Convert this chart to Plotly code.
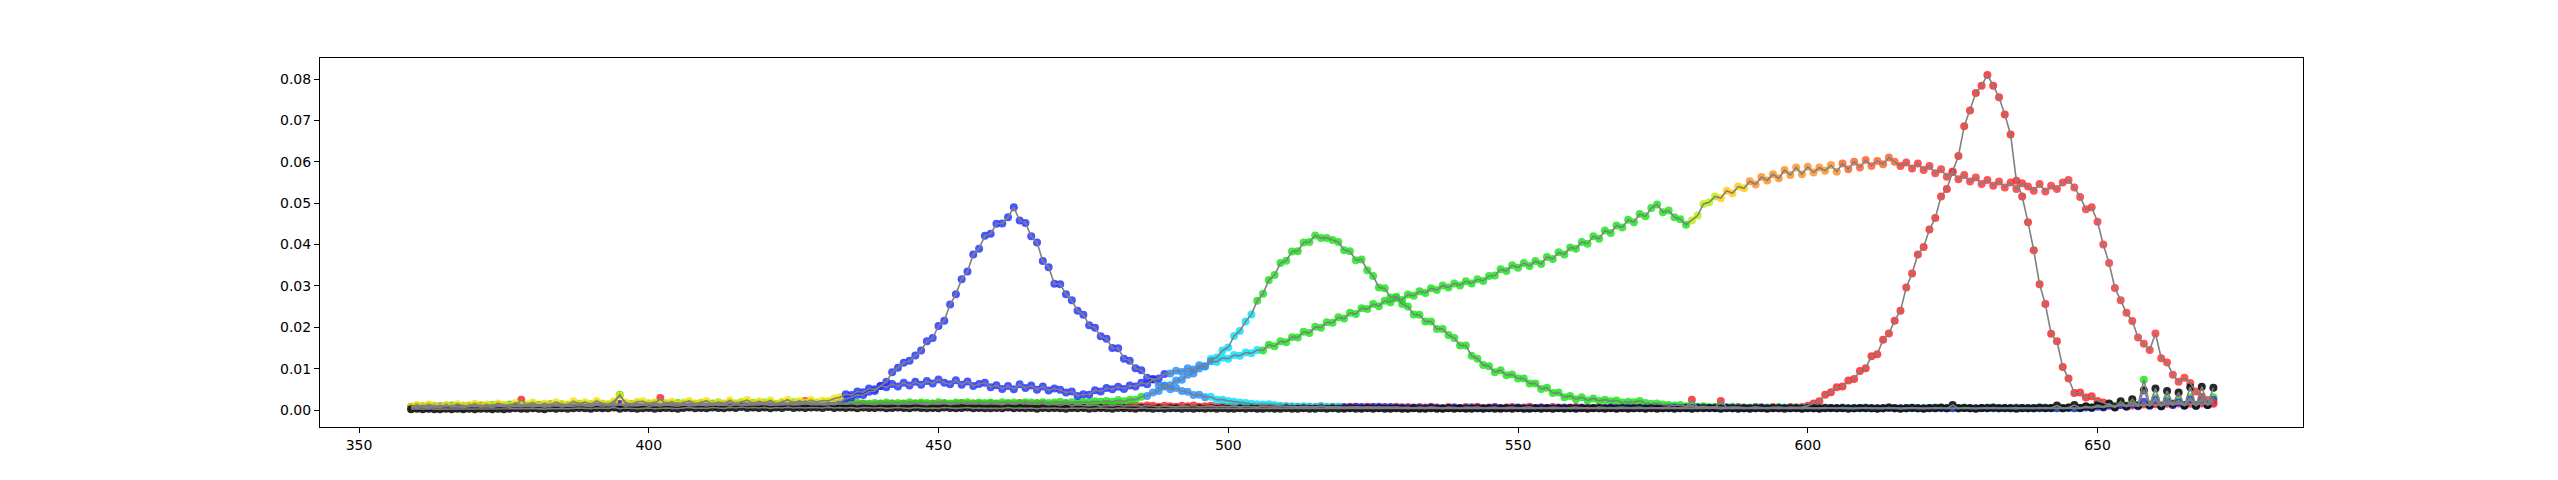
import plotly.graph_objects as go

WAVELENGTH = list(range(359, 671))

BLACK_BASE = [
    0.0002,0.0003,0.0002,0.0003,0.0002,0.0002,0.0003,0.0002,0.0003,0.0002,
    0.0003,0.0002,0.0003,0.0003,0.0002,0.0003,0.0002,0.0003,0.0004,0.0003,
    0.0003,0.0004,0.0003,0.0002,0.0004,0.0003,0.0004,0.0003,0.0004,0.0005,
    0.0004,0.0003,0.0005,0.0004,0.0004,0.0006,0.0003,0.0005,0.0004,0.0003,
    0.0004,0.0005,0.0003,0.0004,0.0005,0.0004,0.0003,0.0005,0.0006,0.0004,
    0.0005,0.0004,0.0006,0.0005,0.0004,0.0006,0.0005,0.0007,0.0005,0.0006,
    0.0005,0.0006,0.0004,0.0006,0.0005,0.0007,0.0005,0.0006,0.0005,0.0006,
    0.0006,0.0005,0.0007,0.0005,0.0006,0.0005,0.0006,0.0004,0.0006,0.0005,
    0.0005,0.0006,0.0004,0.0005,0.0006,0.0005,0.0004,0.0006,0.0005,0.0004,
    0.0005,0.0004,0.0006,0.0005,0.0004,0.0005,0.0006,0.0004,0.0005,0.0004,
    0.0004,0.0005,0.0004,0.0006,0.0004,0.0005,0.0004,0.0005,0.0003,0.0005,
    0.0004,0.0005,0.0004,0.0003,0.0005,0.0004,0.0005,0.0003,0.0004,0.0005,
    0.0004,0.0003,0.0005,0.0004,0.0004,0.0003,0.0005,0.0004,0.0003,0.0004,
    0.0003,0.0004,0.0004,0.0003,0.0004,0.0003,0.0004,0.0003,0.0004,0.0003,
    0.0004,0.0003,0.0003,0.0004,0.0003,0.0004,0.0003,0.0003,0.0004,0.0003,
    0.0003,0.0004,0.0003,0.0003,0.0004,0.0003,0.0003,0.0004,0.0003,0.0004,
    0.0003,0.0003,0.0004,0.0003,0.0003,0.0004,0.0003,0.0004,0.0003,0.0003,
    0.0004,0.0003,0.0003,0.0004,0.0003,0.0003,0.0004,0.0003,0.0003,0.0004,
    0.0003,0.0004,0.0003,0.0003,0.0004,0.0003,0.0004,0.0003,0.0003,0.0004,
    0.0003,0.0004,0.0003,0.0003,0.0004,0.0003,0.0004,0.0003,0.0004,0.0003,
    0.0004,0.0003,0.0004,0.0003,0.0004,0.0004,0.0003,0.0004,0.0003,0.0004,
    0.0003,0.0004,0.0004,0.0003,0.0004,0.0003,0.0004,0.0004,0.0003,0.0004,
    0.0004,0.0003,0.0004,0.0004,0.0005,0.0004,0.0003,0.0004,0.0004,0.0003,
    0.0004,0.0003,0.0004,0.0004,0.0003,0.0004,0.0004,0.0003,0.0004,0.0004,
    0.0003,0.0004,0.0004,0.0003,0.0004,0.0005,0.0004,0.0004,0.0003,0.0004,
    0.0005,0.0004,0.0004,0.0003,0.0004,0.0006,0.0004,0.0003,0.0004,0.0005,
    0.0004,0.0003,0.0005,0.0004,0.0006,0.0004,0.0012,0.0004,0.0005,0.0004,
    0.0003,0.0005,0.0004,0.0006,0.0004,0.0005,0.0004,0.0003,0.0005,0.0004,
    0.0004,0.0006,0.0004,0.0005,0.0011,0.0004,0.0006,0.0012,0.0005,0.0009,
    0.0006,0.0012,0.0008,0.0016,0.0006,0.0021,0.0009,0.0026,0.0011,0.0048,
    0.0012,0.0052,0.0009,0.0046,0.0015,0.0042,0.0011,0.0055,0.0010,0.0056,
    0.0012,0.0054,
]

BLUE_LED = [
    0.0006,0.0008,0.0007,0.0006,0.0008,0.0007,0.0009,0.0007,0.0008,0.0006,
    0.0008,0.0009,0.0007,0.0008,0.0006,0.0009,0.0008,0.0007,0.0010,0.0008,
    0.0009,0.0008,0.0010,0.0007,0.0009,0.0011,0.0008,0.0010,0.0009,0.0011,
    0.0010,0.0008,0.0012,0.0009,0.0011,0.0010,0.0013,0.0009,0.0011,0.0010,
    0.0012,0.0009,0.0011,0.0010,0.0012,0.0011,0.0009,0.0012,0.0010,0.0011,
    0.0012,0.0010,0.0013,0.0011,0.0012,0.0010,0.0013,0.0012,0.0011,0.0013,
    0.0012,0.0014,0.0011,0.0013,0.0012,0.0014,0.0012,0.0013,0.0015,0.0013,
    0.0014,0.0012,0.0013,0.0016,0.0019,0.0027,0.0031,0.0037,0.0036,0.0044,
    0.0046,0.0058,0.0068,0.0091,0.0102,0.0114,0.0119,0.0132,0.0144,0.0166,
    0.0174,0.0203,0.0216,0.0255,0.0280,0.0316,0.0335,0.0376,0.0390,0.0421,
    0.0426,0.0450,0.0451,0.0466,0.0490,0.0458,0.0452,0.0420,0.0405,0.0360,
    0.0345,0.0305,0.0304,0.0280,0.0265,0.0240,0.0230,0.0205,0.0199,0.0178,
    0.0172,0.0150,0.0149,0.0124,0.0119,0.0101,0.0096,0.0078,0.0075,0.0060,
    0.0057,0.0050,0.0053,0.0046,0.0044,0.0036,0.0037,0.0031,0.0032,0.0025,
    0.0025,0.0022,0.0020,0.0018,0.0017,0.0015,0.0014,0.0013,0.0014,0.0012,
    0.0010,0.0008,0.0009,0.0007,0.0009,0.0008,0.0007,0.0009,0.0008,0.0007,
    0.0008,0.0007,0.0006,0.0008,0.0007,0.0006,0.0007,0.0008,0.0006,0.0007,
    0.0005,0.0006,0.0004,0.0006,0.0005,0.0004,0.0006,0.0005,0.0004,0.0005,
    0.0006,0.0004,0.0005,0.0006,0.0004,0.0005,0.0004,0.0006,0.0005,0.0004,
    0.0005,0.0006,0.0004,0.0005,0.0004,0.0006,0.0005,0.0004,0.0005,0.0006,
    0.0004,0.0005,0.0006,0.0004,0.0005,0.0004,0.0005,0.0006,0.0004,0.0005,
    0.0006,0.0004,0.0005,0.0004,0.0006,0.0005,0.0004,0.0005,0.0006,0.0004,
    0.0005,0.0004,0.0006,0.0005,0.0004,0.0005,0.0004,0.0006,0.0004,0.0005,
    0.0004,0.0005,0.0004,0.0006,0.0004,0.0005,0.0004,0.0005,0.0004,0.0005,
    0.0004,0.0005,0.0004,0.0004,0.0005,0.0004,0.0004,0.0005,0.0004,0.0004,
    0.0004,0.0005,0.0004,0.0004,0.0004,0.0005,0.0004,0.0004,0.0004,0.0005,
    0.0004,0.0004,0.0004,0.0005,0.0004,0.0004,0.0004,0.0004,0.0005,0.0004,
    0.0004,0.0004,0.0005,0.0004,0.0004,0.0004,0.0004,0.0005,0.0004,0.0004,
    0.0004,0.0004,0.0005,0.0004,0.0004,0.0004,0.0005,0.0004,0.0004,0.0006,
    0.0005,0.0008,0.0006,0.0010,0.0007,0.0012,0.0008,0.0014,0.0009,0.0020,
    0.0010,0.0024,0.0009,0.0020,0.0012,0.0018,0.0011,0.0025,0.0010,0.0023,
    0.0012,0.0024,
]

GREEN_LED = [
    0.0008,0.0007,0.0009,0.0008,0.0010,0.0008,0.0009,0.0011,0.0008,0.0010,
    0.0009,0.0011,0.0010,0.0009,0.0012,0.0010,0.0011,0.0013,0.0010,0.0012,
    0.0011,0.0013,0.0012,0.0010,0.0013,0.0012,0.0014,0.0011,0.0013,0.0015,
    0.0013,0.0012,0.0016,0.0014,0.0013,0.0017,0.0037,0.0015,0.0014,0.0016,
    0.0014,0.0016,0.0015,0.0013,0.0016,0.0015,0.0017,0.0014,0.0016,0.0015,
    0.0017,0.0015,0.0016,0.0018,0.0015,0.0017,0.0016,0.0019,0.0016,0.0017,
    0.0016,0.0018,0.0017,0.0015,0.0018,0.0016,0.0019,0.0017,0.0016,0.0018,
    0.0017,0.0016,0.0018,0.0017,0.0015,0.0017,0.0016,0.0018,0.0016,0.0015,
    0.0017,0.0016,0.0018,0.0015,0.0017,0.0016,0.0019,0.0016,0.0018,0.0017,
    0.0016,0.0019,0.0017,0.0016,0.0018,0.0017,0.0019,0.0016,0.0018,0.0017,
    0.0018,0.0016,0.0019,0.0017,0.0018,0.0016,0.0019,0.0018,0.0017,0.0019,
    0.0017,0.0018,0.0020,0.0017,0.0019,0.0018,0.0020,0.0019,0.0021,0.0020,
    0.0022,0.0020,0.0024,0.0021,0.0025,0.0025,0.0032,0.0034,0.0042,0.0046,
    0.0059,0.0060,0.0071,0.0073,0.0085,0.0088,0.0100,0.0105,0.0123,0.0127,
    0.0144,0.0151,0.0179,0.0191,0.0214,0.0231,0.0264,0.0281,0.0314,0.0326,
    0.0355,0.0361,0.0383,0.0384,0.0405,0.0406,0.0422,0.0416,0.0416,0.0411,
    0.0406,0.0386,0.0384,0.0362,0.0364,0.0338,0.0324,0.0296,0.0294,0.0272,
    0.0274,0.0256,0.0250,0.0231,0.0230,0.0214,0.0214,0.0196,0.0196,0.0181,
    0.0174,0.0156,0.0156,0.0131,0.0124,0.0109,0.0106,0.0091,0.0096,0.0084,
    0.0086,0.0076,0.0076,0.0064,0.0064,0.0051,0.0054,0.0041,0.0042,0.0031,
    0.0034,0.0026,0.0031,0.0023,0.0028,0.0022,0.0025,0.0021,0.0023,0.0018,
    0.0020,0.0019,0.0022,0.0017,0.0015,0.0016,0.0013,0.0012,0.0011,0.0012,
    0.0009,0.0010,0.0008,0.0009,0.0007,0.0008,0.0007,0.0006,0.0008,0.0006,
    0.0005,0.0006,0.0007,0.0005,0.0006,0.0005,0.0007,0.0006,0.0005,0.0006,
    0.0005,0.0006,0.0004,0.0005,0.0006,0.0005,0.0004,0.0006,0.0005,0.0004,
    0.0005,0.0006,0.0004,0.0005,0.0004,0.0006,0.0005,0.0004,0.0005,0.0006,
    0.0004,0.0005,0.0004,0.0006,0.0005,0.0004,0.0005,0.0004,0.0006,0.0005,
    0.0004,0.0005,0.0006,0.0004,0.0005,0.0004,0.0005,0.0006,0.0004,0.0005,
    0.0005,0.0004,0.0006,0.0005,0.0004,0.0005,0.0006,0.0004,0.0005,0.0008,
    0.0006,0.0010,0.0008,0.0013,0.0009,0.0015,0.0011,0.0019,0.0012,0.0073,
    0.0013,0.0029,0.0011,0.0027,0.0014,0.0023,0.0012,0.0030,0.0011,0.0029,
    0.0013,0.0031,
]

RED_LED = [
    0.0007,0.0009,0.0008,0.0010,0.0007,0.0009,0.0008,0.0010,0.0009,0.0008,
    0.0010,0.0008,0.0011,0.0009,0.0010,0.0012,0.0009,0.0011,0.0010,0.0025,
    0.0011,0.0010,0.0012,0.0011,0.0013,0.0010,0.0012,0.0011,0.0014,0.0012,
    0.0011,0.0013,0.0012,0.0014,0.0011,0.0013,0.0015,0.0012,0.0014,0.0013,
    0.0012,0.0014,0.0013,0.0029,0.0012,0.0014,0.0013,0.0015,0.0012,0.0014,
    0.0013,0.0015,0.0012,0.0014,0.0013,0.0016,0.0014,0.0013,0.0015,0.0014,
    0.0016,0.0013,0.0015,0.0014,0.0016,0.0013,0.0015,0.0014,0.0022,0.0014,
    0.0013,0.0015,0.0014,0.0013,0.0015,0.0014,0.0016,0.0013,0.0015,0.0014,
    0.0013,0.0015,0.0014,0.0016,0.0013,0.0015,0.0014,0.0016,0.0015,0.0013,
    0.0015,0.0014,0.0016,0.0013,0.0015,0.0017,0.0014,0.0016,0.0015,0.0014,
    0.0016,0.0015,0.0013,0.0016,0.0014,0.0017,0.0015,0.0014,0.0016,0.0015,
    0.0012,0.0014,0.0011,0.0016,0.0010,0.0013,0.0011,0.0010,0.0012,0.0009,
    0.0011,0.0010,0.0012,0.0009,0.0011,0.0010,0.0009,0.0011,0.0010,0.0008,
    0.0010,0.0009,0.0008,0.0010,0.0009,0.0011,0.0008,0.0009,0.0010,0.0008,
    0.0009,0.0008,0.0010,0.0007,0.0009,0.0008,0.0007,0.0009,0.0008,0.0007,
    0.0008,0.0009,0.0007,0.0008,0.0006,0.0008,0.0007,0.0009,0.0006,0.0008,
    0.0007,0.0006,0.0008,0.0007,0.0006,0.0008,0.0007,0.0005,0.0007,0.0006,
    0.0008,0.0006,0.0007,0.0005,0.0007,0.0006,0.0008,0.0006,0.0005,0.0007,
    0.0006,0.0005,0.0007,0.0006,0.0008,0.0005,0.0006,0.0007,0.0005,0.0006,
    0.0007,0.0005,0.0006,0.0008,0.0005,0.0006,0.0005,0.0007,0.0006,0.0005,
    0.0006,0.0007,0.0005,0.0006,0.0005,0.0007,0.0006,0.0005,0.0006,0.0007,
    0.0005,0.0006,0.0007,0.0005,0.0006,0.0005,0.0006,0.0007,0.0005,0.0006,
    0.0007,0.0025,0.0006,0.0007,0.0005,0.0006,0.0022,0.0006,0.0005,0.0007,
    0.0006,0.0005,0.0007,0.0006,0.0005,0.0007,0.0006,0.0005,0.0007,0.0006,
    0.0007,0.0010,0.0016,0.0021,0.0037,0.0043,0.0055,0.0057,0.0071,0.0075,
    0.0094,0.0101,0.0130,0.0135,0.0170,0.0185,0.0216,0.0240,0.0296,0.0330,
    0.0376,0.0394,0.0436,0.0464,0.0516,0.0534,0.0576,0.0614,0.0686,0.0724,
    0.0766,0.0784,0.0810,0.0784,0.0756,0.0714,0.0666,0.0554,0.0516,0.0454,
    0.0386,0.0304,0.0256,0.0184,0.0166,0.0104,0.0076,0.0041,0.0042,0.0030,
    0.0033,0.0022,0.0018,0.0012,0.0010,0.0012,0.0009,0.0011,0.0010,0.0013,
    0.0011,0.0014,0.0010,0.0015,0.0012,0.0016,0.0011,0.0015,0.0012,0.0016,
    0.0013,0.0015,
]

WHITE = [
    0.0008,0.0012,0.0009,0.0013,0.0010,0.0007,0.0012,0.0009,0.0014,0.0010,
    0.0011,0.0015,0.0009,0.0013,0.0010,0.0016,0.0012,0.0011,0.0017,0.0012,
    0.0013,0.0018,0.0011,0.0016,0.0012,0.0019,0.0014,0.0013,0.0021,0.0015,
    0.0019,0.0014,0.0022,0.0016,0.0013,0.0021,0.0035,0.0018,0.0014,0.0020,
    0.0021,0.0015,0.0019,0.0013,0.0017,0.0020,0.0014,0.0018,0.0022,0.0015,
    0.0018,0.0022,0.0014,0.0019,0.0016,0.0023,0.0015,0.0020,0.0024,0.0016,
    0.0021,0.0017,0.0023,0.0015,0.0020,0.0025,0.0017,0.0022,0.0018,0.0024,
    0.0019,0.0023,0.0022,0.0028,0.0031,0.0038,0.0036,0.0045,0.0043,0.0052,
    0.0050,0.0058,0.0055,0.0063,0.0057,0.0066,0.0059,0.0068,0.0061,0.0070,
    0.0064,0.0074,0.0066,0.0062,0.0072,0.0061,0.0069,0.0058,0.0063,0.0066,
    0.0055,0.0060,0.0051,0.0058,0.0050,0.0062,0.0053,0.0059,0.0049,0.0057,
    0.0047,0.0052,0.0049,0.0042,0.0045,0.0034,0.0038,0.0037,0.0048,0.0045,
    0.0053,0.0050,0.0056,0.0051,0.0059,0.0057,0.0066,0.0062,0.0074,0.0076,
    0.0087,0.0088,0.0095,0.0092,0.0101,0.0098,0.0108,0.0106,0.0118,0.0116,
    0.0126,0.0124,0.0133,0.0131,0.0139,0.0137,0.0145,0.0144,0.0158,0.0154,
    0.0166,0.0164,0.0176,0.0175,0.0189,0.0186,0.0201,0.0199,0.0212,0.0211,
    0.0224,0.0221,0.0235,0.0232,0.0246,0.0244,0.0256,0.0251,0.0264,0.0260,
    0.0270,0.0266,0.0279,0.0276,0.0287,0.0283,0.0294,0.0290,0.0301,0.0296,
    0.0306,0.0301,0.0311,0.0306,0.0316,0.0312,0.0324,0.0325,0.0340,0.0336,
    0.0350,0.0344,0.0355,0.0348,0.0360,0.0353,0.0370,0.0365,0.0381,0.0376,
    0.0393,0.0390,0.0406,0.0402,0.0420,0.0414,0.0434,0.0428,0.0446,0.0441,
    0.0460,0.0454,0.0474,0.0468,0.0488,0.0497,0.0478,0.0482,0.0466,0.0461,
    0.0448,0.0458,0.0470,0.0498,0.0502,0.0516,0.0512,0.0530,0.0524,0.0540,
    0.0536,0.0553,0.0545,0.0563,0.0555,0.0570,0.0560,0.0580,0.0568,0.0586,
    0.0570,0.0588,0.0574,0.0586,0.0578,0.0592,0.0576,0.0596,0.0582,0.0600,
    0.0586,0.0604,0.0590,0.0602,0.0594,0.0610,0.0600,0.0590,0.0598,0.0584,
    0.0596,0.0580,0.0590,0.0572,0.0582,0.0564,0.0576,0.0558,0.0568,0.0552,
    0.0562,0.0546,0.0556,0.0542,0.0552,0.0538,0.0550,0.0534,0.0548,0.0540,
    0.0530,0.0546,0.0528,0.0542,0.0534,0.0550,0.0556,0.0538,0.0515,0.0485,
    0.0490,0.0455,0.0400,0.0355,0.0295,0.0265,0.0235,0.0215,0.0175,0.0160,
    0.0145,0.0185,0.0125,0.0115,0.0085,0.0068,0.0078,0.0065,0.0045,0.0032,
    0.0024,0.0018,
]

X_TICKS = [350, 400, 450, 500, 550, 600, 650]
Y_TICKS = [0.00, 0.01, 0.02, 0.03, 0.04, 0.05, 0.06, 0.07, 0.08]

for arr in (BLACK_BASE, BLUE_LED, GREEN_LED, RED_LED, WHITE):
    assert len(arr) == len(WAVELENGTH), len(arr)

BLUE = "#1a2cff"
AZURE = "#1e8cff"
CYAN = "#00e0ff"
GREEN = "#12e612"
RED = "#ff1a1a"


def white_colour(nm):
    if nm < 434:
        return "#f2e600"
    if nm < 490:
        return BLUE
    if nm < 498:
        return AZURE
    if nm < 506:
        return CYAN
    if nm < 580:
        return GREEN
    if nm < 585:
        return "#b4f000"
    if nm < 590:
        return "#ffcc00"
    if nm < 606:
        return "#ff8c1a"
    if nm < 616:
        return "#ff5a1f"
    return "#ff2a2a"


def blue_colour(nm):
    if 488 <= nm < 497:
        return AZURE
    if 497 <= nm < 520:
        return CYAN
    return BLUE


def green_colour(nm):
    if 486 <= nm < 496:
        return AZURE
    if 496 <= nm < 505:
        return CYAN
    return GREEN


series = [
    (RED_LED, [RED] * len(WAVELENGTH), 0.8),
    (GREEN_LED, [green_colour(n) for n in WAVELENGTH], 0.8),
    (BLUE_LED, [blue_colour(n) for n in WAVELENGTH], 0.8),
    (WHITE, [white_colour(n) for n in WAVELENGTH], 0.8),
    (BLACK_BASE, ["#111111"] * len(WAVELENGTH), 0.9),
]

fig = go.Figure()
for values, colours, alpha in series:
    fig.add_trace(go.Scatter(
        x=WAVELENGTH, y=values, mode="markers",
        marker=dict(color=colours, size=8, opacity=alpha, line=dict(width=0)),
        showlegend=False, hoverinfo="skip",
    ))
for values, colours, alpha in series:
    fig.add_trace(go.Scatter(
        x=WAVELENGTH, y=values, mode="lines",
        line=dict(color="#808080", width=1.6),
        showlegend=False, hoverinfo="skip",
    ))

axis_common = dict(
    showline=True, linecolor="black", linewidth=1, mirror=True,
    ticks="outside", ticklen=5, tickwidth=1, tickcolor="black",
    showgrid=False, zeroline=False,
    tickfont=dict(family="DejaVu Sans", size=14, color="black"),
)

fig.update_layout(
    width=2550, height=472,
    margin=dict(l=312, r=255, t=50, b=53),
    paper_bgcolor="white", plot_bgcolor="white",
    xaxis=dict(range=[343.27, 685.46], tickvals=X_TICKS,
               ticktext=[str(v) for v in X_TICKS], **axis_common),
    yaxis=dict(range=[-0.00411, 0.08508], tickvals=Y_TICKS,
               ticktext=[f"{v:.2f}" for v in Y_TICKS], **axis_common),
)

fig.write_html("out.html")
